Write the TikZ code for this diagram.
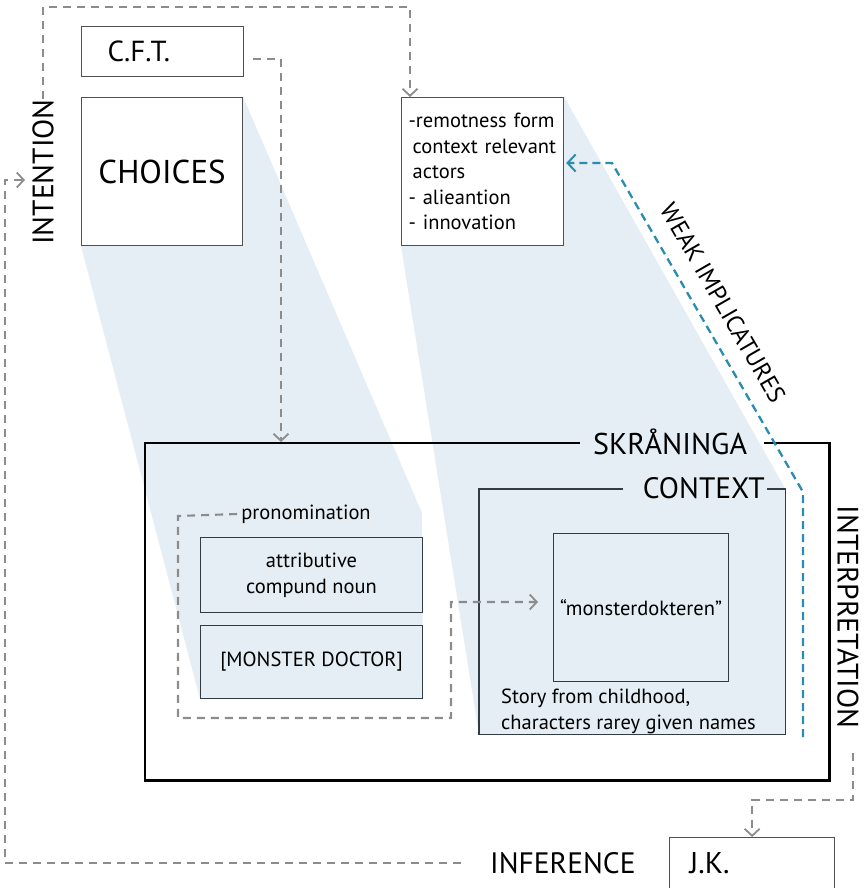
\documentclass[tikz,border=0pt]{standalone}
\usepackage{fontspec}
\setmainfont{PT Sans}
\usetikzlibrary{arrows.meta,calc,backgrounds}
\definecolor{paleblue}{RGB}{229,238,244}
\definecolor{dashgray}{RGB}{140,140,140}
\definecolor{weakblue}{RGB}{42,140,176}
\definecolor{edge}{RGB}{80,80,80}
\definecolor{inedge}{RGB}{50,60,68}

\begin{document}
\begin{tikzpicture}[x=1pt,y=-1pt,
  box/.style={draw=edge, line width=1.2pt, fill=white, inner sep=0pt, anchor=north west},
  inbox/.style={draw=inedge, line width=1.1pt, fill=paleblue, inner sep=0pt, anchor=north west, align=center},
  bigcap/.style={font=\fontsize{29.5}{32}\selectfont, inner sep=0pt},
  small/.style={font=\fontsize{20.5}{25.5}\selectfont},
  flow/.style={draw=dashgray, line width=2.1pt, dash pattern=on 8pt off 6pt,
    -{Straight Barb[length=7pt,width=15pt,line width=1.8pt]}},
  weak/.style={draw=weakblue, line width=2.3pt, dash pattern=on 8pt off 5pt,
    -{Straight Barb[length=8pt,width=17pt,line width=2pt]}},
  frame/.style={draw=black, line width=2.3pt},
  thinframe/.style={draw=inedge, line width=1.2pt}]

\useasboundingbox (0,0) rectangle (866,888);

% upper boxes
\node[box, minimum width=162pt, minimum height=50pt, text width=110pt,
      inner xsep=26pt, align=left, font=\fontsize{29}{32}\selectfont] (cft) at (81,26) {C.F.T.};
\node[box, minimum width=161pt, minimum height=148pt,
      font=\fontsize{33}{36}\selectfont] (choices) at (81,97) {CHOICES};
\node[box, minimum width=162pt, minimum height=148pt, text width=148pt,
      inner xsep=7pt, align=left, small] (remote) at (401,97)
  {-remotness form\\\hspace*{4pt}context relevant\\\hspace*{4pt}actors\\- alieantion\\- innovation};

% side labels
\node[bigcap, rotate=90] (intention) at (43,172) {INTENTION};
\node[bigcap, rotate=-90] (interp) at (848,617) {INTERPRETATION};
\node[bigcap, anchor=west] (inference) at (490,863) {INFERENCE};
\node[font=\fontsize{24.5}{26}\selectfont, rotate=-60, inner sep=0pt] (weaklabel) at (723,303) {WEAK IMPLICATURES};

% outer frame
\node[minimum width=684pt, minimum height=337pt, inner sep=0pt, anchor=north west] (skr) at (145,443) {};
\node[bigcap, font=\fontsize{30}{32}\selectfont, anchor=west] (skrtitle) at (593,442) {SKRÅNINGA};
\draw[frame] ([xshift=-13pt]skrtitle.west |- skr.north) -- (skr.north west) -- (skr.south west)
  -- (skr.south east) -- (skr.north east) -- ([xshift=17pt]skrtitle.east |- skr.north);

% context panel
\node[fill=paleblue, minimum width=306pt, minimum height=245pt, inner sep=0pt, anchor=north west] (context) at (479,489) {};
\node[bigcap, anchor=east] (ctxtitle) at (765,488) {CONTEXT};
\draw[thinframe] ([xshift=-20pt]ctxtitle.west |- context.north) -- (context.north west) -- (context.south west)
  -- (context.south east) -- (context.north east) -- ([xshift=2pt]ctxtitle.east |- context.north);
\node[inbox, minimum width=175pt, minimum height=148pt, font=\fontsize{20.5}{24}\selectfont] (monst) at (553,533) {“monsterdokteren”};
\node[anchor=north west, align=left, inner sep=0pt, font=\fontsize{20.5}{26}\selectfont] (story) at (501,689)
  {Story from childhood,\\characters rarey given names};

% pronomination group
\node[inbox, minimum width=222pt, minimum height=75pt, small] (attr) at (200,537) {attributive\\compund noun};
\node[inbox, minimum width=222pt, minimum height=73pt, small] (doctor) at (200,625) {[MONSTER DOCTOR]};
\node[small, inner xsep=4pt, inner ysep=0pt] (pron) at (306,514) {pronomination};
\coordinate (pronout) at (451,602);
\draw[flow] (pron.west) -- (178,516) -- (178,718) -- (451,718) -- (pronout)
  -- ([xshift=-15pt]monst.west |- pronout);

% J.K.
\node[box, minimum width=165pt, minimum height=51pt, text width=125pt, inner xsep=20pt,
      align=left, font=\fontsize{30}{32}\selectfont] (jk) at (669,837) {J.K.};

% shadows
\begin{scope}[on background layer]
  \fill[paleblue] (choices.south west) -- (choices.north east) -- (422,513)
    -- (doctor.south east) -- (doctor.south west) -- cycle;
  \fill[paleblue] (remote.south west) -- (remote.north east) -- (context.north east)
    -- (context.south east) -- (context.south west) -- cycle;
\end{scope}

% dashed connectors
\coordinate (topturn) at (410,7);
\draw[flow] (intention.east) |- (topturn) -- (remote.north west -| topturn);
\coordinate (cftin) at (281,442);
\draw[flow] ([shift={(9pt,-7pt)}]cft.east) -| (cftin);
\coordinate (leftturn) at (5,180);
\coordinate (intentin) at (25,180);
\draw[flow] ([xshift=-29pt]inference.west) -| (leftturn) -- (intentin);
\coordinate (interpfoot) at (853,753);
\coordinate (jkturn) at (853,800);
\draw[flow] (interpfoot) -- (jkturn) -| (jk.north);

% weak implicatures
\coordinate (weakfoot) at (803,737);
\coordinate (weakknee) at (803,492);
\coordinate (weaktop) at (612,163);
\draw[weak] (weakfoot) -- (weakknee) -- (weaktop) -- ([xshift=2pt]remote.east |- weaktop);
\end{tikzpicture}
\end{document}
